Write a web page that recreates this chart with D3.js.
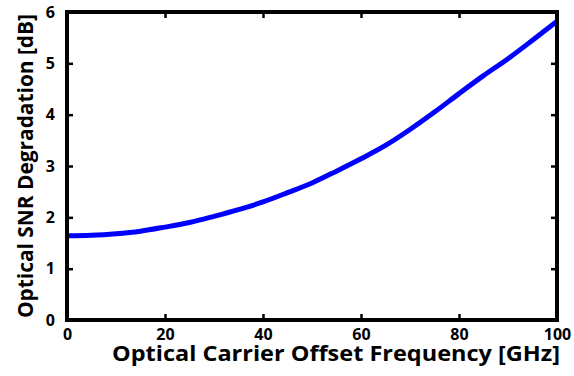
<!DOCTYPE html>
<html lang="en">
<head>
  <meta charset="UTF-8">
  <title>Optical SNR degradation</title>
  <style>
    html, body {
      margin: 0;
      padding: 0;
      background-color: #fff;
    }

    .curve {
      fill: none;
      stroke: #0000ff;
      stroke-width: 5;
      stroke-linejoin: round;
    }
  </style>
</head>
<body>
  <script src="https://d3js.org/d3.v7.min.js"></script>
  <script>
    const width = 574,
          height = 376,
          margin = { top: 12, right: 16, bottom: 56, left: 67 },
          font = '"Open Sans", "DejaVu Sans", sans-serif'

    // offset frequency [GHz] and degradation [dB]
    const frequency = [0, 5, 10, 15, 20, 25, 30, 35, 40, 45, 50, 55, 60, 65, 70, 75, 80, 85, 90, 95, 100]
    const degradation = [1.64, 1.65, 1.68, 1.73, 1.81, 1.90, 2.02, 2.15, 2.30, 2.48, 2.67, 2.90, 3.14, 3.40, 3.71, 4.05, 4.41, 4.76, 5.09, 5.45, 5.82]

    const xTicks = [0, 20, 40, 60, 80, 100]
    const yTicks = [0, 1, 2, 3, 4, 5, 6]

    const xTitle = 'Optical Carrier Offset Frequency [GHz]'
    const yTitle = 'Optical SNR Degradation [dB]'

    const x = d3.scaleLinear()
      .domain([0, 100])
      .range([margin.left, width - margin.right - 1])

    const y = d3.scaleLinear()
      .domain([0, 6])
      .range([height - margin.bottom, margin.top])

    const svg = d3.select('body')
      .append('svg')
      .attr('width', width)
      .attr('height', height)

    const points = frequency.map((f, i) => [f, degradation[i]])

    const line = d3.line()
      .x(d => x(d[0]))
      .y(d => y(d[1]))
      .curve(d3.curveMonotoneX)

    svg.append('path')
      .datum(points)
      .attr('class', 'curve')
      .attr('d', line)

    // inward ticks on all four sides, labels only bottom and left
    const styleAxis = g => {
      g.attr('font-family', font).attr('font-size', 16).attr('font-weight', 700)
      g.select('.domain').remove()
      g.selectAll('.tick line').attr('stroke', '#000').attr('stroke-width', 2.5)
      g.selectAll('.tick text').attr('fill', '#000')
    }

    svg.append('g')
      .attr('transform', `translate(0,${y(0)})`)
      .call(d3.axisBottom(x).tickValues(xTicks).tickFormat(d3.format('d')).tickSize(-6).tickPadding(9))
      .call(styleAxis)

    svg.append('g')
      .attr('transform', `translate(0,${y(6)})`)
      .call(d3.axisTop(x).tickValues(xTicks).tickSize(-6).tickFormat(''))
      .call(styleAxis)

    svg.append('g')
      .attr('transform', `translate(${x(0)},0)`)
      .call(d3.axisLeft(y).tickValues(yTicks).tickFormat(d3.format('d')).tickSize(-6).tickPadding(12))
      .call(styleAxis)

    svg.append('g')
      .attr('transform', `translate(${x(100)},0)`)
      .call(d3.axisRight(y).tickValues(yTicks).tickSize(-6).tickFormat(''))
      .call(styleAxis)

    // thick frame
    svg.append('rect')
      .attr('x', x(0))
      .attr('y', y(6))
      .attr('width', x(100) - x(0))
      .attr('height', y(0) - y(6))
      .attr('fill', 'none')
      .attr('stroke', '#000')
      .attr('stroke-width', 4)

    svg.append('text')
      .attr('x', 336)
      .attr('y', 361)
      .attr('text-anchor', 'middle')
      .attr('font-family', font)
      .attr('font-size', 21)
      .attr('font-weight', 700)
      .attr('textLength', 448)
      .attr('lengthAdjust', 'spacingAndGlyphs')
      .text(xTitle)

    svg.append('text')
      .attr('transform', `translate(33,${(y(0) + y(6)) / 2}) rotate(-90)`)
      .attr('text-anchor', 'middle')
      .attr('font-family', font)
      .attr('font-size', 21)
      .attr('font-weight', 700)
      .attr('textLength', 304)
      .attr('lengthAdjust', 'spacingAndGlyphs')
      .text(yTitle)
  </script>
</body>
</html>
